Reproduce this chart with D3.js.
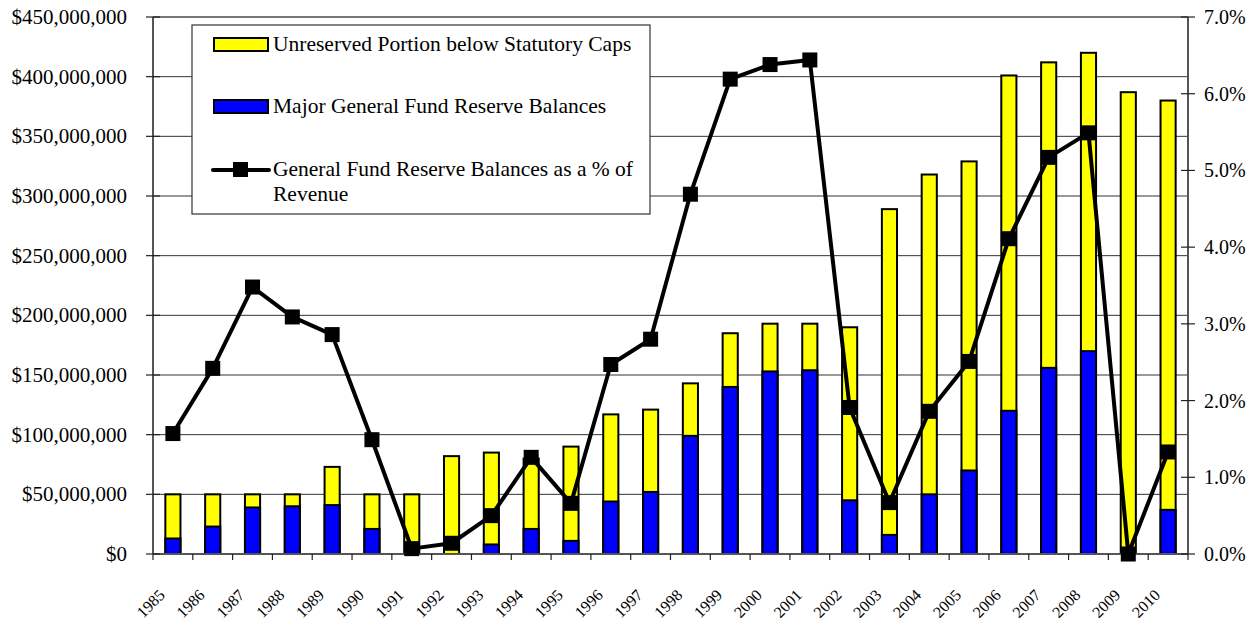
<!DOCTYPE html>
<html>
<head>
<meta charset="utf-8">
<script src="https://cdn.jsdelivr.net/npm/d3@7"></script>
<style>
  body { margin: 0; background: #fff; }
</style>
</head>
<body>
<svg id="chart" width="1255" height="620"></svg>
<script>
// data
const years = ["1985","1986","1987","1988","1989","1990","1991","1992","1993","1994","1995","1996","1997",
               "1998","1999","2000","2001","2002","2003","2004","2005","2006","2007","2008","2009","2010"];
// total fund balance (reserve + unreserved), in dollars
const totalBalance = [50e6, 50e6, 50e6, 50e6, 73e6, 50e6, 50e6, 82e6, 85e6, 80e6, 90e6, 117e6, 121e6,
                      143e6, 185e6, 193e6, 193e6, 190e6, 289e6, 318e6, 329e6, 401e6, 412e6, 420e6, 387e6, 380e6];
// major general fund reserve balances, in dollars
const reserveBalance = [13e6, 23e6, 39e6, 40e6, 41e6, 21e6, 0, 0, 8e6, 21e6, 11e6, 44e6, 52e6,
                        99e6, 140e6, 153e6, 154e6, 45e6, 16e6, 50e6, 70e6, 120e6, 156e6, 170e6, 0, 37e6];
// reserve balances as % of revenue
const pctRevenue = [1.57, 2.42, 3.48, 3.09, 2.86, 1.49, 0.07, 0.14, 0.50, 1.26, 0.66, 2.47, 2.80,
                    4.69, 6.19, 6.38, 6.44, 1.91, 0.67, 1.86, 2.51, 4.11, 5.17, 5.49, 0.00, 1.33];
const leftTicks = [0, 50e6, 100e6, 150e6, 200e6, 250e6, 300e6, 350e6, 400e6, 450e6];
const rightTicks = [0, 1, 2, 3, 4, 5, 6, 7];
const legendLabels = ["Unreserved Portion below Statutory Caps", "Major General Fund Reserve Balances",
                      "General Fund Reserve Balances as a % of", "Revenue"];

const FONT = "Liberation Serif";
const svg = d3.select("#chart");
const plotL = 153, plotR = 1188, plotT = 17, plotB = 554;

const x = d3.scaleBand().domain(years).range([plotL, plotR]).padding(0);
const yL = d3.scaleLinear().domain([0, 450e6]).range([plotB, plotT]);
const yR = d3.scaleLinear().domain([0, 7]).range([plotB, plotT]);
const barW = x.bandwidth() * 0.38;

// gridlines
svg.append("g")
  .selectAll("line")
  .data(leftTicks.slice(1))
  .enter()
  .append("line")
  .attr("x1", plotL).attr("x2", plotR)
  .attr("y1", d => yL(d)).attr("y2", d => yL(d))
  .attr("stroke", d => d === 450e6 ? "#777" : "#333")
  .attr("stroke-width", d => d === 450e6 ? 2 : 1);

// bars: yellow total, blue reserve on top of it
const bars = svg.append("g");
bars.selectAll("rect.total")
  .data(years)
  .enter()
  .append("rect")
  .attr("x", d => x(d) + (x.bandwidth() - barW) / 2)
  .attr("y", (d, i) => yL(totalBalance[i]))
  .attr("width", barW)
  .attr("height", (d, i) => plotB - yL(totalBalance[i]))
  .attr("fill", "#ffff00")
  .attr("stroke", "#000")
  .attr("stroke-width", 2);

bars.selectAll("rect.reserve")
  .data(years.filter((d, i) => reserveBalance[i] > 0))
  .enter()
  .append("rect")
  .attr("x", d => x(d) + (x.bandwidth() - barW) / 2)
  .attr("y", d => yL(reserveBalance[years.indexOf(d)]))
  .attr("width", barW)
  .attr("height", d => plotB - yL(reserveBalance[years.indexOf(d)]))
  .attr("fill", "#0000ff")
  .attr("stroke", "#000")
  .attr("stroke-width", 2);

// axes lines
svg.append("line").attr("x1", plotL).attr("x2", plotL).attr("y1", plotT).attr("y2", plotB)
  .attr("stroke", "#555").attr("stroke-width", 2);
svg.append("line").attr("x1", plotR).attr("x2", plotR).attr("y1", plotT).attr("y2", plotB)
  .attr("stroke", "#555").attr("stroke-width", 2);
svg.append("line").attr("x1", plotL).attr("x2", plotR).attr("y1", plotB).attr("y2", plotB)
  .attr("stroke", "#555").attr("stroke-width", 2);

// left ticks + labels
const fmtDollar = d => "$" + d3.format(",")(d);
const gL = svg.append("g");
gL.selectAll("line")
  .data(leftTicks).enter().append("line")
  .attr("x1", plotL - 7).attr("x2", plotL + 7)
  .attr("y1", d => yL(d)).attr("y2", d => yL(d))
  .attr("stroke", "#222").attr("stroke-width", 1.2);
gL.selectAll("text")
  .data(leftTicks).enter().append("text")
  .attr("x", 127).attr("y", d => yL(d) + 7)
  .attr("text-anchor", "end")
  .attr("font-family", FONT)
  .attr("font-size", 21)
  .text(fmtDollar);

// right ticks + labels
const gR = svg.append("g");
gR.selectAll("line")
  .data(rightTicks).enter().append("line")
  .attr("x1", plotR - 7).attr("x2", plotR + 7)
  .attr("y1", d => yR(d)).attr("y2", d => yR(d))
  .attr("stroke", "#222").attr("stroke-width", 1.2);
gR.selectAll("text")
  .data(rightTicks).enter().append("text")
  .attr("x", 1204).attr("y", d => yR(d) + 7)
  .attr("text-anchor", "start")
  .attr("font-family", FONT)
  .attr("font-size", 20)
  .text(d => d.toFixed(1) + "%");

// x ticks at category boundaries
const bounds = years.map(d => x(d)).concat([plotR]);
svg.append("g").selectAll("line")
  .data(bounds).enter().append("line")
  .attr("x1", d => d).attr("x2", d => d)
  .attr("y1", plotB).attr("y2", plotB + 6)
  .attr("stroke", "#222").attr("stroke-width", 1.2);

svg.append("g").selectAll("text")
  .data(years).enter().append("text")
  .attr("transform", d => `translate(${x(d) + x.bandwidth() / 2 - 7},${596}) rotate(-45)`)
  .attr("text-anchor", "end")
  .attr("font-family", FONT)
  .attr("font-size", 16)
  .text(d => d);

// % of revenue line
const line = d3.line()
  .x((d, i) => x(years[i]) + x.bandwidth() / 2)
  .y(d => yR(d));
svg.append("path")
  .datum(pctRevenue)
  .attr("d", line)
  .attr("fill", "none")
  .attr("stroke", "#000")
  .attr("stroke-width", 4)
  .attr("stroke-linejoin", "round");
svg.append("g").selectAll("rect")
  .data(pctRevenue).enter().append("rect")
  .attr("x", (d, i) => x(years[i]) + x.bandwidth() / 2 - 7.5)
  .attr("y", d => yR(d) - 7.5)
  .attr("width", 15).attr("height", 15)
  .attr("fill", "#000");

// legend
const lg = svg.append("g");
lg.append("rect")
  .attr("x", 192).attr("y", 25).attr("width", 458).attr("height", 189)
  .attr("fill", "#fff").attr("stroke", "#333").attr("stroke-width", 1.2);
lg.append("rect").attr("x", 214).attr("y", 38).attr("width", 54).attr("height", 13)
  .attr("fill", "#ffff00").attr("stroke", "#000").attr("stroke-width", 2);
lg.append("rect").attr("x", 214).attr("y", 100).attr("width", 54).attr("height", 13)
  .attr("fill", "#0000ff").attr("stroke", "#000").attr("stroke-width", 2);
lg.append("line").attr("x1", 213).attr("x2", 269).attr("y1", 170).attr("y2", 170)
  .attr("stroke", "#000").attr("stroke-width", 4).attr("stroke-linecap", "round");
lg.append("rect").attr("x", 233).attr("y", 162).attr("width", 15).attr("height", 15).attr("fill", "#000");
lg.selectAll("text")
  .data(legendLabels).enter().append("text")
  .attr("x", 273)
  .attr("y", (d, i) => [51, 113, 176, 201][i])
  .attr("font-family", FONT)
  .attr("font-size", 21.5)
  .text(d => d);
</script>
</body>
</html>
